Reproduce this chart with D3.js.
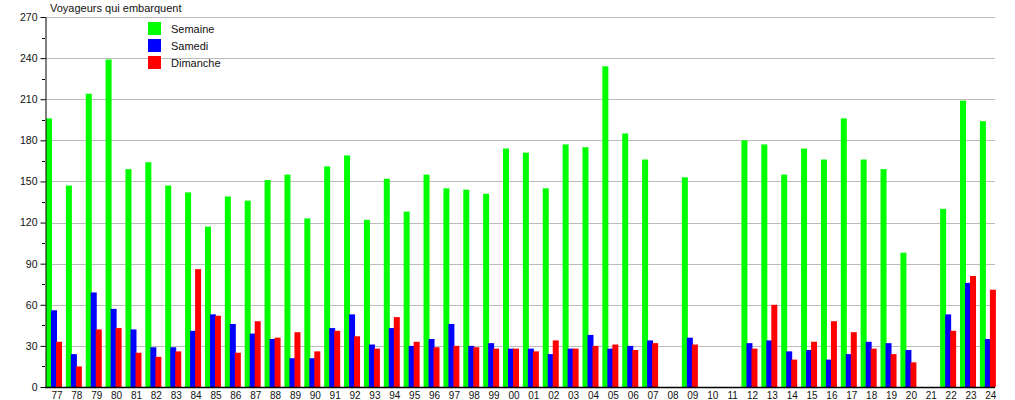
<!DOCTYPE html>
<html><head><meta charset="utf-8">
<script src="https://cdn.jsdelivr.net/npm/d3@7/dist/d3.min.js"></script>
<style>body{margin:0;background:#fff}svg{display:block;font-family:"Liberation Sans",Arial,sans-serif}</style>
</head><body>
<script>
const years = ["77","78","79","80","81","82","83","84","85","86","87","88","89","90","91","92","93","94","95","96","97","98","99","00","01","02","03","04","05","06","07","08","09","10","11","12","13","14","15","16","17","18","19","20","21","22","23","24"];
const semaine = [196,147,214,239,159,164,147,142,117,139,136,151,155,123,161,169,122,152,128,155,145,144,141,174,171,145,177,175,234,185,166,null,153,null,null,180,177,155,174,166,196,166,159,98,null,130,209,194];
const samedi  = [56,24,69,57,42,29,29,41,53,46,39,35,21,21,43,53,31,43,30,35,46,30,32,28,28,24,28,38,28,30,34,null,36,null,null,32,34,26,27,20,24,33,32,27,null,53,76,35];
const dimanche= [33,15,42,43,25,22,26,86,52,25,48,36,40,26,41,37,28,51,33,29,30,29,28,28,26,34,28,30,31,27,32,null,31,null,null,28,60,20,33,48,40,28,24,18,null,41,81,71];
const yTicks = [0,30,60,90,120,150,180,210,240,270];
const seriesNames = ["Semaine","Samedi","Dimanche"];
const colors = ["#00ff00","#0000ff","#ff0000"];

(function(){
const W=1015,H=400;
const svg=d3.select("body").append("svg").attr("width",W).attr("height",H);
const mL=45, mR=995, mT=17, mB=387;
const y=d3.scaleLinear().domain([0,270]).range([mB,mT]);
const step=19.87;
const x=d3.scaleBand().domain(years).range([46,46+step*years.length]).paddingInner(0).paddingOuter(0);

svg.append("g").selectAll("line").data(yTicks.filter(d=>d>0)).join("line")
  .attr("x1",mL).attr("x2",mR).attr("y1",d=>Math.round(y(d))+0.5).attr("y2",d=>Math.round(y(d))+0.5)
  .attr("stroke","#bbbbbb").attr("stroke-width",1);

const all=[semaine,samedi,dimanche];
const offs=[0,5,10];
all.forEach((arr,si)=>{
  svg.append("g").selectAll("rect").data(years.map((yr,i)=>({yr,v:arr[i]})).filter(d=>d.v!=null)).join("rect")
    .attr("x",d=>x(d.yr)+offs[si]).attr("width",6)
    .attr("y",d=>y(d.v)).attr("height",d=>y(0)-y(d.v))
    .attr("fill",colors[si]);
});

const yAxis=d3.axisLeft(y).tickValues(yTicks).tickSize(5).tickSizeOuter(0).tickPadding(3);
const ga=svg.append("g").attr("transform",`translate(${mL+0.5},0)`).call(yAxis);
ga.select(".domain").attr("stroke","#000");
ga.selectAll("text").attr("font-size",10.5).attr("fill","#111").attr("font-family","Liberation Sans, Arial, sans-serif");
svg.append("g").selectAll("line").data(d3.range(15,270,30)).join("line")
  .attr("x1",mL-3).attr("x2",mL).attr("y1",d=>Math.round(y(d))+0.5).attr("y2",d=>Math.round(y(d))+0.5).attr("stroke","#000");

svg.append("line").attr("x1",mL).attr("x2",mR).attr("y1",mB+0.5).attr("y2",mB+0.5).attr("stroke","#000").attr("stroke-width",1.5);
svg.append("g").selectAll("text").data(years).join("text")
  .attr("x",d=>x(d)+11).attr("y",mB+11.5).attr("text-anchor","middle")
  .attr("font-size",10).attr("fill","#111").text(d=>d);

svg.append("text").attr("x",50).attr("y",12).attr("font-size",11).attr("fill","#111").text("Voyageurs qui embarquent");

const lg=svg.append("g");
seriesNames.forEach((n,i)=>{
  lg.append("rect").attr("x",148).attr("y",22+i*17).attr("width",13).attr("height",13).attr("fill",colors[i]);
  lg.append("text").attr("x",171).attr("y",32.5+i*17).attr("font-size",11).attr("fill","#111").text(n);
});
})();
</script>
</body></html>
